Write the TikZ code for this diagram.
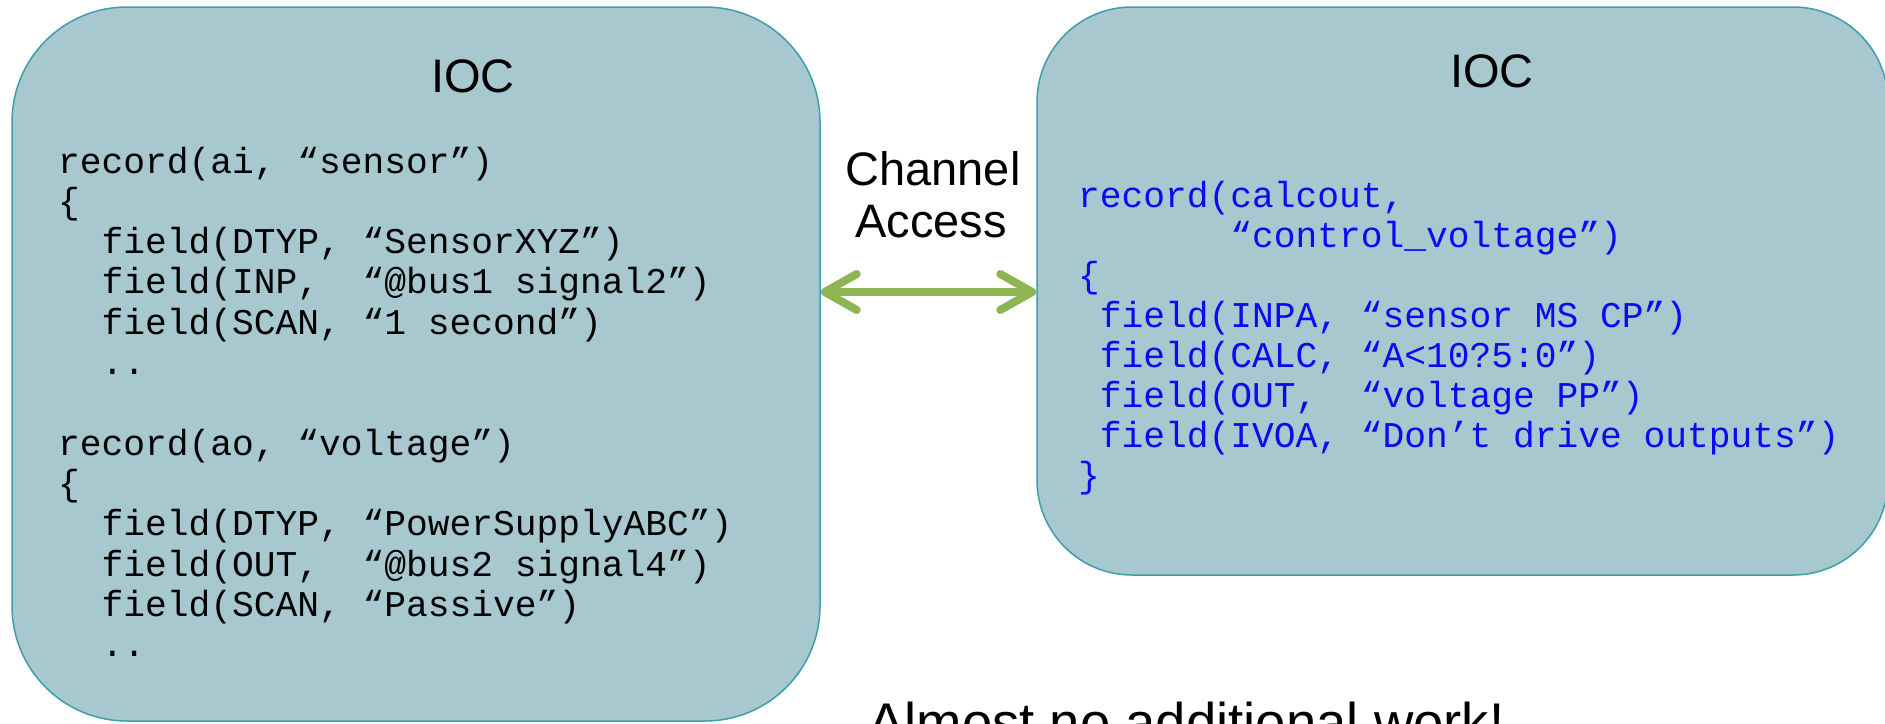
\documentclass[tikz,border=0pt]{standalone}
\usepackage{fontspec}
\setmainfont{Liberation Sans}
\newfontfamily\codefont{Liberation Mono}
\usetikzlibrary{arrows.meta}
\definecolor{iocfill}{RGB}{167,200,207}
\definecolor{iocline}{RGB}{62,158,170}
\definecolor{cagreen}{RGB}{141,182,83}
\definecolor{codeblue}{RGB}{10,10,245}
\tikzstyle{iocbox} = [draw=iocline, fill=iocfill, line width=1.5pt, inner sep=0]
\tikzstyle{title} = [font=\fontsize{47}{52}\selectfont, anchor=base, inner sep=0]
\tikzstyle{code} = [font=\codefont\fontsize{36.25}{40}\selectfont, anchor=base west, inner sep=0]
\tikzstyle{caarrow} = [cagreen, line width=8pt, line cap=round, <->, >={Straight Barb[length=32pt,width=36pt,round]}]
\tikzstyle{bigtext} = [font=\fontsize{54.5}{60}\selectfont, anchor=base west, inner sep=0]

\begin{document}
\begin{tikzpicture}[x=1pt,y=-1pt]
\useasboundingbox (0,0) rectangle (1885,723);
\clip (0,0) rectangle (1885,723);

\node[iocbox, minimum width=808pt, minimum height=714pt, rounded corners=115pt] (lbox) at (416,364) {};
\node[iocbox, minimum width=851pt, minimum height=568pt, rounded corners=95pt] (rbox) at (1462.5,291) {};

\node[title] (lioc) at (473,92) {IOC};
\node[title] (rioc) at (1492,87) {IOC};
\node[title] (chan) at (933,185) {Channel};
\node[title] (acc) at (931,237) {Access};

\coordinate (ca) at (0,292);
\draw[caarrow] (lbox.east |- ca) -- (rbox.west |- ca);

% records of the left IOC
\foreach \txt [count=\i from 0] in {{record(ai, “sensor”)}, {\{}, {~~field(DTYP, “SensorXYZ”)},
    {~~field(INP,~ “@bus1 signal2”)}, {~~field(SCAN, “1 second”)}, {~~..}, {},
    {record(ao, “voltage”)}, {\{}, {~~field(DTYP, “PowerSupplyABC”)},
    {~~field(OUT,~ “@bus2 signal4”)}, {~~field(SCAN, “Passive”)}, {~~..}}
  \node[code] (la\i) at (58,173+40.33*\i) {\txt};

% record of the right IOC
\foreach \txt [count=\i from 0] in {{record(calcout,}, {~~~~~~~“control\_voltage”)}, {\{},
    {~field(INPA, “sensor MS CP”)}, {~field(CALC, “A<10?5:0”)}, {~field(OUT,~ “voltage PP”)},
    {~field(IVOA, “Don’t drive outputs”)}, {\}}}
  \node[code, codeblue] (ra\i) at (1078,207+40*\i) {\txt};

\node[bigtext] (note) at (868,741) {Almost no additional work!};
\end{tikzpicture}
\end{document}
